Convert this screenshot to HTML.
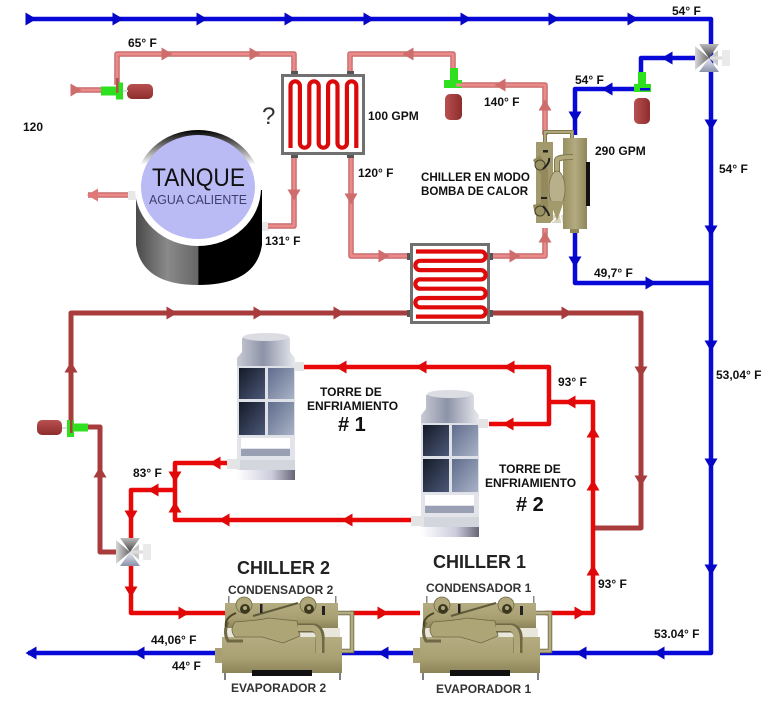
<!DOCTYPE html>
<html><head><meta charset="utf-8"><style>
html,body{margin:0;padding:0;background:#fff}
svg{display:block;filter:blur(.35px)}
text{font-family:"Liberation Sans",sans-serif;font-weight:bold;font-size:12px;fill:#111}
</style></head><body>
<svg width="768" height="719" viewBox="0 0 768 719" xmlns="http://www.w3.org/2000/svg">
<defs>
<polygon id="a" points="-5.5,-6.5 5.5,0 -5.5,6.5"/>
<linearGradient id="tk" x1="0" x2="1" y1="0" y2="0"><stop offset="0" stop-color="#4a4a4a"/><stop offset=".25" stop-color="#8a8a8a"/><stop offset=".49" stop-color="#666"/><stop offset=".5" stop-color="#000"/><stop offset="1" stop-color="#000"/></linearGradient>
<linearGradient id="ring" x1="0" x2="0" y1="0" y2="1"><stop offset="0" stop-color="#000"/><stop offset=".1" stop-color="#555"/><stop offset=".3" stop-color="#fff"/><stop offset="1" stop-color="#fff"/></linearGradient>
<linearGradient id="t1" x1="0" x2="1" y1="0" y2="0"><stop offset="0" stop-color="#c8cbd4"/><stop offset=".45" stop-color="#8d93a8"/><stop offset="1" stop-color="#e8e9ee"/></linearGradient>
<linearGradient id="p1" x1="0" x2="1" y1="0" y2="1"><stop offset="0" stop-color="#141a28"/><stop offset="1" stop-color="#4c5878"/></linearGradient>
<linearGradient id="p2" x1="0" x2="1" y1="0" y2="1"><stop offset="0" stop-color="#5f6c8c"/><stop offset="1" stop-color="#a9b2c6"/></linearGradient>
<linearGradient id="b1" x1="0" x2="1" y1="0" y2="0"><stop offset="0" stop-color="#fff"/><stop offset=".6" stop-color="#ccd"/><stop offset="1" stop-color="#667"/></linearGradient>
<linearGradient id="tan" x1="0" x2="0" y1="0" y2="1"><stop offset="0" stop-color="#b5ad82"/><stop offset=".6" stop-color="#a89f72"/><stop offset="1" stop-color="#8c8459"/></linearGradient>
<linearGradient id="tanv" x1="0" x2="1" y1="0" y2="0"><stop offset="0" stop-color="#98905f"/><stop offset=".5" stop-color="#b3ab80"/><stop offset="1" stop-color="#8f8759"/></linearGradient>
<linearGradient id="mot" x1="0" x2="0" y1="0" y2="1"><stop offset="0" stop-color="#b85050"/><stop offset="1" stop-color="#8e2d2d"/></linearGradient>
<linearGradient id="motv" x1="0" x2="1" y1="0" y2="0"><stop offset="0" stop-color="#b85050"/><stop offset="1" stop-color="#8e2d2d"/></linearGradient>
<linearGradient id="vl" x1="0" x2="1" y1="0" y2="0"><stop offset="0" stop-color="#d8d8d8"/><stop offset="1" stop-color="#6a6a6a"/></linearGradient>
<linearGradient id="vt" x1="0" x2="0" y1="0" y2="1"><stop offset="0" stop-color="#bbb"/><stop offset="1" stop-color="#444"/></linearGradient>
<linearGradient id="vb" x1="0" x2="0" y1="0" y2="1"><stop offset="0" stop-color="#e8e8f0"/><stop offset="1" stop-color="#8a92aa"/></linearGradient>
<g id="tower">
<rect x="227" y="459" width="11" height="10" fill="#e4e4e4"/>
<rect x="295" y="362" width="9" height="9" fill="#e4e4e4"/>
<path d="M242 338 Q266 330 290 338 V352 L295 358 V367 H237 V358 L242 352Z" fill="url(#t1)"/>
<ellipse cx="266" cy="337" rx="23" ry="4" fill="#dcdde2"/>
<rect x="237" y="366" width="58" height="70" fill="#dfe1e8"/>
<rect x="239" y="368" width="26" height="31" fill="url(#p1)"/>
<rect x="268" y="368" width="26" height="31" fill="url(#p2)"/>
<rect x="239" y="402" width="26" height="33" fill="url(#p1)"/>
<rect x="268" y="402" width="26" height="33" fill="url(#p2)"/>
<rect x="237" y="436" width="58" height="44" fill="#e3e4ea"/>
<rect x="241" y="438" width="49" height="10" fill="#fff"/>
<rect x="241" y="449" width="49" height="7" fill="#99a0b4"/>
<rect x="240" y="460" width="55" height="10" fill="#d4d6de"/>
<rect x="237" y="470" width="58" height="10" fill="url(#b1)"/>
</g>
<g id="chiller">
<path d="M325 613 H352 V651 H340" fill="none" stroke="#6f6845" stroke-width="4.500"/>
<path d="M325 613 H352 V651 H340" fill="none" stroke="#b5ad82" stroke-width="2.800"/>
<rect x="225" y="603" width="113" height="25" fill="url(#tan)"/>
<path d="M224 628 H245 V640 H224Z M272 628 H340 V640 H272Z" fill="#a89f72" opacity=".25"/>
<rect x="222" y="637" width="120" height="36" fill="url(#tan)"/>
<rect x="215" y="648" width="7" height="15" fill="#a89f72"/>
<rect x="252" y="670" width="60" height="6" fill="#111"/>
<path d="M225 673V680M340 673V680" stroke="#555" stroke-width="1.500"/>
<path d="M228 622 Q223 632 228 641 H243" fill="none" stroke="#6f6845" stroke-width="3"/>
<path d="M235 622 Q262 620 268 618 L297 621 L300 636 L283 643 L262 637 L235 637 Q229 630 235 622Z" fill="#aea577" stroke="#6f6845" stroke-width=".8"/>
<path d="M298 628 H314 Q321 630 320 640 V653" fill="none" stroke="#6f6845" stroke-width="9"/>
<path d="M298 628 H313 Q319 630 319 640 V653" fill="none" stroke="#b0a87b" stroke-width="6"/>
<circle cx="244" cy="605" r="8" fill="#b0a87b" stroke="#6f6845" stroke-width=".8"/><circle cx="245" cy="609" r="5" fill="#3c3820"/><circle cx="245" cy="608" r="2" fill="#b0a87b"/>
<circle cx="308" cy="605" r="8" fill="#b0a87b" stroke="#6f6845" stroke-width=".8"/><circle cx="309" cy="609" r="5" fill="#3c3820"/><circle cx="309" cy="608" r="2" fill="#b0a87b"/>
<path d="M253 616 L298 603" stroke="#5f5a3a" stroke-width="2"/>
<path d="M226 627 Q224 618 236 613" fill="none" stroke="#4a4528" stroke-width="2"/>
<rect x="260" y="604" width="2.500" height="9" fill="#222"/><rect x="322" y="606" width="3" height="9" fill="#222"/>
<rect x="228" y="596" width="1.500" height="7" fill="#888"/><rect x="335" y="596" width="1.500" height="7" fill="#888"/>
</g>
<g id="gv">
<path d="M-13,-4.500 H2 V-8.500 H9 V8.500 H2 V4.500 H-13Z" fill="#2fe01e"/>
</g>
<g id="valve">
<polygon points="-14,-12 0,0 -14,12" fill="url(#vl)"/>
<polygon points="9,-8 0,0 9,8" fill="#c8c8c8"/>
<polygon points="-10,-14 10,-14 0,0" fill="url(#vt)"/>
<polygon points="-10,14 10,14 0,0" fill="url(#vb)"/>
<rect x="1" y="-1.500" width="13" height="3" fill="#ddd"/>
<rect x="13" y="-8" width="8" height="16" fill="#eaeaea"/>
</g>
</defs>

<!-- tank -->
<rect x="128" y="191" width="9" height="9" fill="#e8e8e8"/>
<rect x="262" y="222" width="7" height="9" fill="#e8e8e8"/>
<path d="M136 190 V245 Q142 285 198 285 Q256 285 262 245 V190Z" fill="url(#tk)"/>
<ellipse cx="198" cy="188" rx="63" ry="58" fill="url(#ring)"/>
<ellipse cx="198" cy="187" rx="57" ry="52" fill="#babaf5"/>
<text x="152" y="186" textLength="93" lengthAdjust="spacingAndGlyphs" style="font-size:25px;font-weight:normal">TANQUE</text>
<text x="149" y="204" textLength="98" lengthAdjust="spacingAndGlyphs" style="font-size:12.500px;font-weight:normal;fill:#3e3e6e">AGUA CALIENTE</text>

<g fill="none" stroke-linejoin="round">
<g stroke="#c76868" stroke-width="5.500">
<path d="M117 85V54H294V74"/><path d="M72 90H102"/><path d="M350 74V54H453V68"/><path d="M294 155V226H268"/><path d="M351 155V256H410"/><path d="M456 85H545V135"/><path d="M490 256H545V228"/><path d="M88 195H128"/>
</g>
<g stroke="#ea8a8a" stroke-width="3">
<path d="M117 85V54H294V74"/><path d="M72 90H102"/><path d="M350 74V54H453V68"/><path d="M294 155V226H268"/><path d="M351 155V256H410"/><path d="M456 85H545V135"/><path d="M490 256H545V228"/><path d="M88 195H128"/>
</g>
<g stroke="#a83c3c" stroke-width="5">
<path d="M71 428V313H410"/><path d="M490 313H641V528H594"/><path d="M88 427H100V552H116"/>
</g>
<g stroke="#e80808" stroke-width="4.500">
<path d="M131 566V613H225"/><path d="M131 538V490H175"/><path d="M228 463H175V520H411"/><path d="M304 367H549V424H489"/><path d="M549 402H593V613H545"/><path d="M350 613H420"/>
</g>
<g stroke="#0808d8" stroke-width="4.500">
<path d="M28 19H711V653H28"/><path d="M696 58H641V72"/><path d="M648 89H575V135"/><path d="M575 232V283H711"/>
</g>
</g>

<g fill="#0606c8">
<use href="#a" transform="translate(31,19)"/><use href="#a" transform="translate(118,19)"/><use href="#a" transform="translate(202,19)"/><use href="#a" transform="translate(290,19)"/><use href="#a" transform="translate(369,19)"/><use href="#a" transform="translate(466,19)"/><use href="#a" transform="translate(554,19)"/><use href="#a" transform="translate(633,19)"/>
<use href="#a" transform="translate(711,125) rotate(90)"/><use href="#a" transform="translate(711,231) rotate(90)"/><use href="#a" transform="translate(711,346) rotate(90)"/><use href="#a" transform="translate(711,464) rotate(90)"/><use href="#a" transform="translate(711,570) rotate(90)"/>
<use href="#a" transform="translate(667,58) rotate(180)"/><use href="#a" transform="translate(607,89) rotate(180)"/><use href="#a" transform="translate(575,117) rotate(90)"/><use href="#a" transform="translate(575,262) rotate(90)"/><use href="#a" transform="translate(651,283)"/>
<use href="#a" transform="translate(659,653) rotate(180)"/><use href="#a" transform="translate(581,653) rotate(180)"/><use href="#a" transform="translate(383,653) rotate(180)"/><use href="#a" transform="translate(139,653) rotate(180)"/><use href="#a" transform="translate(31,653) rotate(180)"/>
</g>
<g fill="#cf6d6d">
<use href="#a" transform="translate(76,90)"/><use href="#a" transform="translate(167,54)"/><use href="#a" transform="translate(255,54)"/><use href="#a" transform="translate(294,195) rotate(90)"/><use href="#a" transform="translate(351,199) rotate(90)"/><use href="#a" transform="translate(384,256)"/><use href="#a" transform="translate(408,54) rotate(180)"/><use href="#a" transform="translate(500,85) rotate(180)"/><use href="#a" transform="translate(545,105) rotate(-90)"/><use href="#a" transform="translate(545,237) rotate(-90)"/><use href="#a" transform="translate(515,256)"/>
</g>
<polygon points="87,195 98,188.500 98,201.500" fill="#e07878"/>
<g fill="#a83c3c">
<use href="#a" transform="translate(172,313)"/><use href="#a" transform="translate(259,313)"/><use href="#a" transform="translate(339,313)"/><use href="#a" transform="translate(567,313)"/><use href="#a" transform="translate(641,372) rotate(90)"/><use href="#a" transform="translate(641,481) rotate(90)"/><use href="#a" transform="translate(71,367) rotate(-90)"/><use href="#a" transform="translate(100,472) rotate(-90)"/>
</g>
<g fill="#e00808">
<use href="#a" transform="translate(341,367) rotate(180)"/><use href="#a" transform="translate(421,367) rotate(180)"/><use href="#a" transform="translate(509,367) rotate(180)"/><use href="#a" transform="translate(508,424) rotate(180)"/><use href="#a" transform="translate(570,402) rotate(180)"/><use href="#a" transform="translate(593,432) rotate(-90)"/><use href="#a" transform="translate(593,485) rotate(-90)"/><use href="#a" transform="translate(593,570) rotate(-90)"/><use href="#a" transform="translate(580,613)"/><use href="#a" transform="translate(383,613)"/><use href="#a" transform="translate(184,613)"/><use href="#a" transform="translate(131,516) rotate(90)"/><use href="#a" transform="translate(131,592) rotate(90)"/><use href="#a" transform="translate(153,490) rotate(180)"/><use href="#a" transform="translate(175,477) rotate(90)"/><use href="#a" transform="translate(175,507) rotate(-90)"/><use href="#a" transform="translate(215,463) rotate(180)"/><use href="#a" transform="translate(224,520) rotate(180)"/><use href="#a" transform="translate(347,520) rotate(180)"/>
</g>

<!-- exchanger 1 -->
<rect x="291" y="71" width="7" height="5" fill="#555"/><rect x="347" y="71" width="7" height="5" fill="#555"/><rect x="291" y="153" width="7" height="5" fill="#555"/><rect x="347" y="153" width="7" height="5" fill="#555"/>
<rect x="282.500" y="75.500" width="81" height="78" fill="#fff" stroke="#707070" stroke-width="3"/>
<path d="M290.500 148V86A4.700 4.700 0 0 1 299.900 86V143A4.700 4.700 0 0 0 309.300 143V86A4.700 4.700 0 0 1 318.700 86V143A4.700 4.700 0 0 0 328.100 143V86A4.700 4.700 0 0 1 337.500 86V143A4.700 4.700 0 0 0 346.900 143V86A4.700 4.700 0 0 1 356.300 86V148" fill="none" stroke="#da0a0a" stroke-width="4.200"/>
<!-- exchanger 2 -->
<rect x="407" y="253" width="5" height="7" fill="#555"/><rect x="407" y="310" width="5" height="7" fill="#555"/><rect x="488" y="253" width="5" height="7" fill="#555"/><rect x="488" y="310" width="5" height="7" fill="#555"/>
<rect x="411.500" y="244.500" width="77" height="78" fill="#fff" stroke="#707070" stroke-width="3"/>
<path d="M416 251.500H481A4.650 4.650 0 0 1 481 260.800H420A4.650 4.650 0 0 0 420 270.100H481A4.650 4.650 0 0 1 481 279.400H420A4.650 4.650 0 0 0 420 288.700H481A4.650 4.650 0 0 1 481 298H420A4.650 4.650 0 0 0 420 307.300H481A4.650 4.650 0 0 1 481 316.600H416" fill="none" stroke="#e00a0a" stroke-width="4.200"/>

<use href="#tower"/>
<use href="#tower" transform="translate(184,57)"/>

<!-- valves & motors -->
<rect x="127" y="84" width="26" height="15" rx="5" fill="url(#mot)"/><rect x="123" y="90" width="5" height="2" fill="#ddd"/>
<use href="#gv" transform="translate(114,91)"/>
<rect x="116" y="78" width="2.500" height="15" fill="#b85050"/>
<rect x="37" y="420" width="25" height="15" rx="5" fill="url(#mot)"/>
<rect x="62" y="427" width="5" height="2" fill="#ddd"/>
<rect x="67" y="420" width="7" height="17" fill="#2fe01e"/><path d="M74 423.500H88V431.500H74Z" fill="#2fe01e"/>
<rect x="70" y="415" width="2.500" height="18" fill="#a83c3c"/>
<rect x="445" y="94" width="17" height="26" rx="5" fill="url(#motv)"/>
<path d="M450 68H458V80H462V88H444V80H450Z" fill="#2fe01e"/>
<rect x="456" y="83.500" width="6" height="3" fill="#ea8a8a"/>
<rect x="634" y="98" width="16" height="26" rx="5" fill="url(#motv)"/>
<path d="M638 72H646V84H651V92H634V84H638Z" fill="#2fe01e"/>
<rect x="640" y="88" width="10" height="2.500" fill="#0808d8"/>
<use href="#valve" transform="translate(709,58)"/>
<use href="#valve" transform="translate(130,552)"/>

<!-- heat pump chiller -->
<path d="M545 146V132H572V140" fill="none" stroke="#7f7850" stroke-width="4"/>
<path d="M545 146V132H572V140" fill="none" stroke="#b0a87b" stroke-width="2"/>
<rect x="563" y="138" width="24" height="91" fill="url(#tanv)"/>
<rect x="570" y="229" width="9" height="4" fill="#8f8759"/>
<rect x="586" y="162" width="4" height="44" fill="#111"/>
<rect x="536" y="142" width="17" height="81" fill="#a29a6c"/>
<path d="M533 160 L540 155 L548 170 V210 L535 215 L533 205 L541 203 V175Z" fill="#94895c"/>
<path d="M557 172 V160 Q558 157 573 157" fill="none" stroke="#7f7850" stroke-width="6"/>
<path d="M557 172 V160 Q558 157 573 157" fill="none" stroke="#b0a87b" stroke-width="4"/>
<rect x="553" y="215" width="10" height="8" fill="#a29a6c" opacity=".4"/>
<ellipse cx="557" cy="189" rx="8" ry="18" fill="#b8b08a" stroke="#6f6845" stroke-width=".7"/>
<path d="M550 201L557 221L564 201Z" fill="#a29a6c"/>
<circle cx="540" cy="165" r="5" fill="#9a9264" stroke="#4a4528"/><circle cx="540" cy="211" r="5" fill="#9a9264" stroke="#4a4528"/>
<path d="M543 169 Q550 163 549 158 M543 206 Q549 213 549 216" fill="none" stroke="#222" stroke-width="2"/>
<rect x="543" y="150" width="5" height="2.500" fill="#222"/><rect x="541" y="197" width="6" height="2" fill="#222"/>
<path d="M551 223L556 218M562 223L560 214" stroke="#fff" stroke-width="1.500"/>

<use href="#chiller"/>
<use href="#chiller" transform="translate(198,0)"/>

<text x="128" y="47">65° F</text>
<text x="23" y="131">120</text>
<text x="262" y="124" style="font-size:24px;font-weight:normal;fill:#333">?</text>
<text x="265" y="245">131° F</text>
<text x="368" y="120">100 GPM</text>
<text x="358" y="177">120° F</text>
<text x="484" y="106">140° F</text>
<text x="575" y="84">54° F</text>
<text x="672" y="15">54° F</text>
<text x="719" y="173">54° F</text>
<text x="595" y="155">290 GPM</text>
<text x="421" y="181" style="font-size:11.600px">CHILLER EN MODO</text>
<text x="421" y="195" style="font-size:11.600px">BOMBA DE CALOR</text>
<text x="594" y="277">49,7° F</text>
<text x="716" y="379">53,04° F</text>
<text x="558" y="386">93° F</text>
<text x="320" y="396">TORRE DE</text>
<text x="307" y="410">ENFRIAMIENTO</text>
<text x="338" y="431" style="font-size:20px">#&#160;1</text>
<text x="499" y="473">TORRE DE</text>
<text x="485" y="487">ENFRIAMIENTO</text>
<text x="516" y="511" style="font-size:20px">#&#160;2</text>
<text x="133" y="477">83° F</text>
<text x="237" y="574" style="font-size:18px;fill:#222">CHILLER 2</text>
<text x="433" y="568" style="font-size:18px;fill:#222">CHILLER 1</text>
<text x="228" y="594" style="fill:#333">CONDENSADOR 2</text>
<text x="426" y="592" style="fill:#333">CONDENSADOR 1</text>
<text x="598" y="588">93° F</text>
<text x="654" y="638">53.04° F</text>
<text x="151" y="644">44,06° F</text>
<text x="172" y="670">44° F</text>
<text x="231" y="692" style="fill:#333">EVAPORADOR 2</text>
<text x="436" y="693" style="fill:#333">EVAPORADOR 1</text>
</svg>
</body></html>
